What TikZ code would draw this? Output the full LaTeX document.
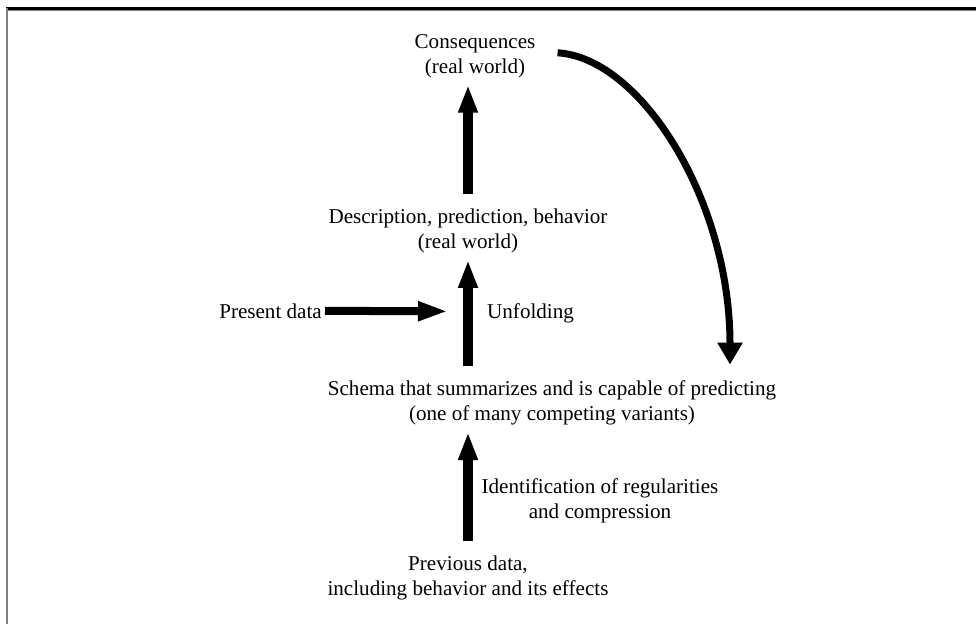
\documentclass[tikz,border=0pt]{standalone}
\usepackage{fontspec}
\setmainfont{Liberation Serif}
\usepackage{tikz}
\usetikzlibrary{positioning,arrows.meta}

\begin{document}
\begin{tikzpicture}[x=1pt, y=-1pt,
    lbl/.style={inner sep=0pt, align=center, font=\fontsize{21.1}{25}\selectfont},
    bigarrow/.style={line width=10pt, -{Triangle[width=18pt,length=28pt]}, shorten <=14pt, shorten >=7pt},
    sidearrow/.style={line width=8pt, -{Triangle[width=18pt,length=30pt]}},
    loopback/.style={line width=7pt, -{Triangle[width=24pt,length=22pt]}}]
    \useasboundingbox (0,0) rectangle (976,624);
    % frame
    \draw[line width=3pt] (6,8.5) -- (976,8.5);
    \draw[gray, line width=1pt] (6,10.5) -- (976,10.5);
    \draw[gray, line width=2pt] (6.5,8) -- (6.5,624);

    % nodes
    \node[lbl] (cons) at (475,55.8) {Consequences\\(real world)};
    \node[lbl] (desc) at (468,230.6) {Description, prediction, behavior\\(real world)};
    \node[lbl, anchor=base east] (present) at (322,318) {Present data};
    \node[lbl, anchor=base west] (unfold) at (487,318) {Unfolding};
    \node[lbl] (schema) at (552,402.6) {Schema that summarizes and is capable of predicting\\(one of many competing variants)};
    \node[lbl] (ident) at (600,500.6) {Identification of regularities\\and compression};
    \node[lbl] (prev) at (468,577.6) {Previous data,\\including behavior and its effects};

    % arrows
    \draw[bigarrow] (desc.north) -- (desc.north |- cons.south);
    \draw[bigarrow] (schema.north -| desc.south) -- coordinate[pos=.54] (midup) (desc.south);
    \draw[bigarrow] (prev.north) -- (prev.north |- schema.south);
    \draw[sidearrow, shorten <=3pt, shorten >=20pt] (present.east) -- (midup);
    \draw[loopback] ([xshift=22pt,yshift=3pt]cons.east) .. controls +(83,5) and +(0,-165) .. ([xshift=178pt,yshift=15.6pt]schema.north);
\end{tikzpicture}
\end{document}
